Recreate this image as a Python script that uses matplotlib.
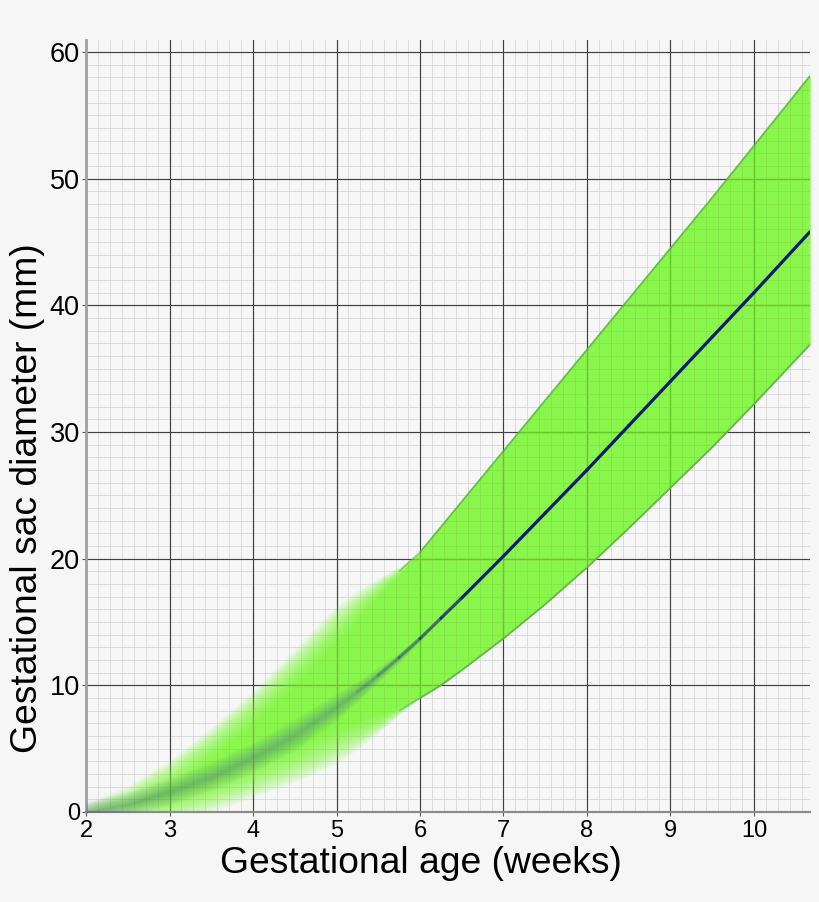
import numpy as np
import matplotlib
matplotlib.use("Agg")
import matplotlib.pyplot as plt
from matplotlib.collections import LineCollection
from matplotlib.ticker import MultipleLocator

# ---- data ----
weeks = [2.0, 2.5, 3.0, 3.5, 4.0, 4.5, 4.75, 5.0, 5.25, 5.5, 5.75, 6.0, 6.25, 6.5,
         7.0, 7.5, 8.0, 8.5, 9.0, 9.5, 10.0, 10.67]
mean_mm = [0.0, 0.6, 1.6, 2.8, 4.3, 6.1, 7.2, 8.3, 9.5, 10.8, 12.2, 13.7, 15.3, 16.9,
           20.2, 23.6, 27.0, 30.5, 34.0, 37.5, 41.0, 45.8]
upper_mm = [0.0, 1.1, 2.9, 5.4, 8.2, 11.4, 13.1, 14.8, 16.3, 17.7, 19.0, 20.5, 22.5, 24.5,
            28.5, 32.5, 36.5, 40.5, 44.5, 48.5, 52.6, 58.1]
lower_mm = [0.0, 0.1, 0.4, 1.3, 2.5, 3.8, 4.5, 5.3, 6.1, 7.0, 8.0, 9.0, 10.0, 11.2,
            13.7, 16.4, 19.3, 22.4, 25.6, 28.8, 32.2, 36.9]

x_ticks = [2, 3, 4, 5, 6, 7, 8, 9, 10]
y_ticks = [0, 10, 20, 30, 40, 50, 60]
x_label = "Gestational age (weeks)"
y_label = "Gestational sac diameter (mm)"

# ---- style ----
plt.rcParams['font.family'] = ['Liberation Sans', 'DejaVu Sans']
BG = '#f6f6f6'
GREEN = '#76f928'
EDGE = '#5cb442'
NAVY = '#0a1a6e'

x = np.array(weeks)
mean = np.array(mean_mm)
upper = np.array(upper_mm)
lower = np.array(lower_mm)

# blur half-widths (style) for the uncertain early part
band_blur = np.interp(x, [2.0, 3.0, 4.5, 5.0, 5.25, 5.5, 5.75, 6.0],
                      [0.7, 1.2, 1.5, 1.5, 1.2, 0.8, 0.35, 0.0])
mean_blur = np.interp(x, [2.0, 3.0, 4.5, 5.0, 5.5, 6.0, 6.5],
                      [0.9, 1.1, 1.3, 1.1, 0.6, 0.25, 0.0])

fig = plt.figure(figsize=(8.2, 9.02), dpi=100, facecolor=BG)
ax = fig.add_axes([0.1049, 0.0998, 0.8825, 0.8559])
ax.set_facecolor(BG)

ax.set_xlim(2, 10.667)
ax.set_ylim(0, 60.95)

# grid: minor through the axis grid, major drawn on top of it
ax.set_axisbelow(True)
ax.xaxis.set_major_locator(MultipleLocator(1))
ax.xaxis.set_minor_locator(MultipleLocator(1 / 7))
ax.yaxis.set_major_locator(MultipleLocator(10))
ax.yaxis.set_minor_locator(MultipleLocator(1))
ax.grid(which='minor', color='#d6d6d6', lw=0.6)
for v in x_ticks:
    ax.axvline(v, color='#404040', lw=0.85, zorder=1)
for v in y_ticks[1:]:
    ax.axhline(v, color='#404040', lw=0.85, zorder=1)

# green band, blurred where blur > 0
N = 30
a_layer = 1 - (1 - 0.8) ** (1 / N)
mid = (lower + upper) / 2
for o in np.linspace(-1, 1, N):
    lo = np.minimum(lower + o * band_blur, mid)
    hi = np.maximum(upper - o * band_blur, mid)
    ax.fill_between(x, lo, hi, color=GREEN, alpha=a_layer, lw=0, zorder=2)

# sharp edges of the band
def seg_alpha(vals, thresh):
    v = (vals[:-1] + vals[1:]) / 2
    return np.clip(1 - v / thresh, 0, 1)

for edge in (upper, lower):
    pts = np.column_stack([x, edge])
    segs = np.stack([pts[:-1], pts[1:]], axis=1)
    al = seg_alpha(band_blur, 0.45)
    cols = [matplotlib.colors.to_rgba(EDGE, a * 0.9) for a in al]
    ax.add_collection(LineCollection(segs, colors=cols, lw=1.3, zorder=3))

# blurred mean
M = 14
for k in range(1, M + 1):
    w = mean_blur * k / M
    ax.fill_between(x, mean - w, mean + w, color='#4040b0', alpha=0.025, lw=0, zorder=3)

# sharp mean line with fade-in
pts = np.column_stack([x, mean])
segs = np.stack([pts[:-1], pts[1:]], axis=1)
xm = (x[:-1] + x[1:]) / 2
al = np.interp(xm, [5.1, 5.5, 6.0, 6.4, 6.8], [0.0, 0.15, 0.4, 0.75, 1.0])
cols = [matplotlib.colors.to_rgba(NAVY, a) for a in al]
ax.add_collection(LineCollection(segs, colors=cols, lw=2.3, zorder=4, capstyle='round'))

# spines
for s in ('top', 'right'):
    ax.spines[s].set_visible(False)
ax.spines['left'].set_color('#a0a0a0')
ax.spines['left'].set_linewidth(2.0)
ax.spines['bottom'].set_color('#8c8c8c')
ax.spines['bottom'].set_linewidth(1.6)

ax.set_xticks(x_ticks)
ax.set_yticks(y_ticks)
ax.set_xticklabels([str(v) for v in x_ticks])
ax.set_yticklabels([str(v) for v in y_ticks])
ax.tick_params(axis='x', which='major', length=3, color='#555555', pad=3, labelsize=17)
ax.tick_params(axis='y', which='major', length=3, color='#555555', pad=1.5, labelsize=19.5)
ax.tick_params(which='minor', length=0)
ylabs = ax.get_yticklabels()
ylabs[0].set_fontsize(17)

ax.set_xlabel(x_label, fontsize=26.8, va='baseline')
ax.xaxis.set_label_coords(0.463, -0.0786)
ax.set_ylabel(y_label, fontsize=26.8, va='baseline')
ax.yaxis.set_label_coords(-0.0681, 0.4067)

fig.savefig('out.png', dpi=100, facecolor=BG)
